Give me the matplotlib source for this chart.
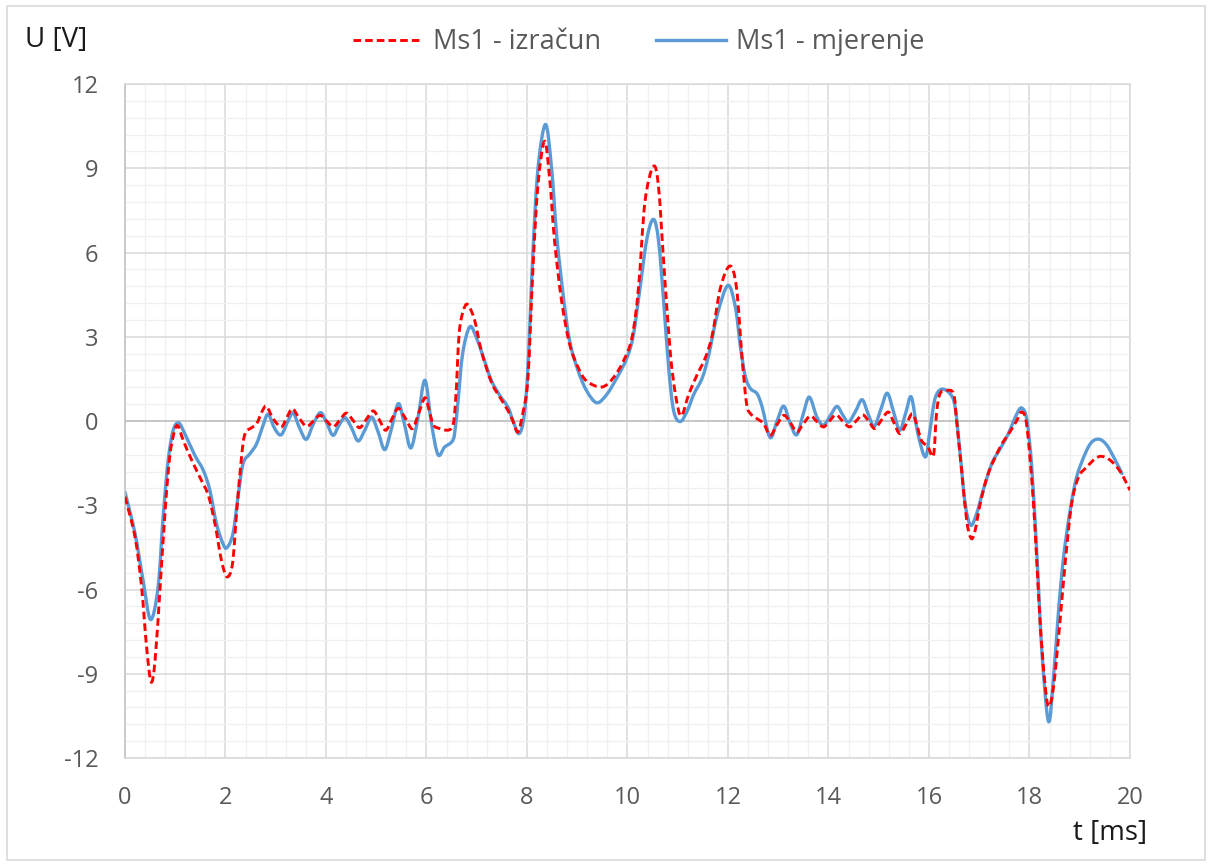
import matplotlib
matplotlib.use("Agg")
import matplotlib.pyplot as plt
import numpy as np
from matplotlib.ticker import MultipleLocator
from matplotlib.patches import Rectangle, PathPatch
from matplotlib.path import Path
from matplotlib.lines import Line2D

# --- data ---
t_calc = [0.0, 0.2, 0.33, 0.43, 0.52, 0.6, 0.7, 0.8, 0.89, 0.99, 1.06, 1.16, 1.33, 1.52, 1.66, 1.79,
          1.92, 2.03, 2.14, 2.22, 2.32, 2.39, 2.52, 2.62, 2.74, 2.82, 2.95, 3.11, 3.22, 3.33, 3.45,
          3.61, 3.75, 3.88, 4.0, 4.15, 4.28, 4.41, 4.54, 4.67, 4.8, 4.94, 5.06, 5.19, 5.32, 5.44,
          5.58, 5.72, 5.85, 5.97, 6.05, 6.13, 6.23, 6.5, 6.58, 6.65, 6.73, 6.82, 6.96, 7.09, 7.29,
          7.46, 7.62, 7.72, 7.82, 7.92, 8.02, 8.12, 8.22, 8.35, 8.45, 8.55, 8.69, 8.85, 9.02, 9.19,
          9.49, 9.72, 9.92, 10.09, 10.22, 10.35, 10.52, 10.62, 10.72, 10.85, 10.96, 11.07, 11.22,
          11.39, 11.55, 11.69, 11.85, 12.04, 12.17, 12.28, 12.37, 12.45, 12.58, 12.71, 12.84,
          12.97, 13.11, 13.24, 13.37, 13.5, 13.64, 13.77, 13.9, 14.02, 14.15, 14.28, 14.42, 14.55,
          14.68, 14.8, 14.92, 15.05, 15.19, 15.3, 15.42, 15.55, 15.67, 15.76, 15.85, 15.98, 16.09,
          16.15, 16.22, 16.35, 16.49, 16.55, 16.65, 16.75, 16.84, 16.92, 17.02, 17.18, 17.42,
          17.61, 17.75, 17.85, 17.95, 18.08, 18.21, 18.3, 18.38, 18.48, 18.61, 18.71, 18.84,
          18.98, 19.14, 19.31, 19.44, 19.61, 19.81, 20.0]
u_calc = [-2.7, -4.13, -5.9, -8.04, -9.29, -8.5, -5.9, -3.18, -1.28, -0.33, -0.19, -0.69, -1.4,
          -2.11, -2.65, -3.65, -4.96, -5.55, -5.08, -3.3, -1.28, -0.45, -0.24, -0.1, 0.38, 0.52,
          0.08, -0.21, 0.12, 0.44, 0.15, -0.19, 0.0, 0.2, 0.02, -0.2, 0.05, 0.28, 0.02, -0.24,
          0.05, 0.36, 0.05, -0.33, 0.1, 0.45, 0.1, -0.27, 0.3, 0.83, 0.4, -0.1, -0.25, -0.25,
          0.74, 3.1, 3.9, 4.15, 3.58, 2.51, 1.39, 0.85, 0.38, 0.0, -0.39, 0.3, 1.54, 5.46, 8.42,
          9.96, 8.66, 6.4, 4.27, 2.73, 1.9, 1.42, 1.21, 1.54, 2.14, 2.97, 4.74, 7.83, 9.07, 8.3,
          5.69, 2.49, 0.9, 0.18, 0.95, 1.66, 2.25, 3.08, 4.74, 5.52, 4.74, 2.27, 0.62, 0.26, 0.08,
          -0.09, -0.51, -0.15, 0.2, -0.05, -0.39, -0.1, 0.18, -0.02, -0.21, 0.0, 0.22, 0.0, -0.21,
          0.0, 0.22, 0.0, -0.27, 0.02, 0.32, -0.05, -0.45, -0.1, 0.26, -0.15, -0.69, -0.92, -1.22,
          0.26, 0.97, 1.09, 0.97, 0.02, -1.75, -3.53, -4.18, -3.89, -2.94, -1.87, -0.92, -0.39,
          0.02, 0.32, -0.21, -2.94, -7.09, -9.2, -10.17, -9.45, -7.09, -5.07, -2.94, -1.99, -1.64,
          -1.34, -1.26, -1.4, -1.81, -2.46]

t_meas = [0.0, 0.2, 0.36, 0.51, 0.66, 0.76, 0.86, 0.96, 1.07, 1.19, 1.39, 1.56, 1.69, 1.82, 1.95,
          2.03, 2.15, 2.25, 2.35, 2.49, 2.62, 2.75, 2.85, 2.98, 3.11, 3.25, 3.35, 3.48, 3.61, 3.75,
          3.89, 4.01, 4.14, 4.26, 4.38, 4.51, 4.64, 4.78, 4.91, 5.04, 5.17, 5.3, 5.44, 5.56, 5.69,
          5.83, 5.97, 6.1, 6.23, 6.36, 6.5, 6.56, 6.63, 6.72, 6.86, 6.99, 7.13, 7.29, 7.46, 7.62,
          7.72, 7.84, 7.94, 8.02, 8.12, 8.22, 8.37, 8.49, 8.59, 8.72, 8.85, 9.02, 9.19, 9.39, 9.59,
          9.79, 9.99, 10.12, 10.25, 10.39, 10.52, 10.62, 10.72, 10.82, 10.92, 11.05, 11.19, 11.32,
          11.49, 11.62, 11.79, 12.0, 12.15, 12.25, 12.35, 12.45, 12.58, 12.68, 12.84, 12.98, 13.11,
          13.24, 13.37, 13.5, 13.62, 13.77, 13.9, 14.04, 14.17, 14.29, 14.4, 14.54, 14.67, 14.79,
          14.91, 15.04, 15.17, 15.3, 15.42, 15.54, 15.65, 15.78, 15.93, 16.02, 16.12, 16.25, 16.42,
          16.52, 16.62, 16.72, 16.83, 16.95, 17.08, 17.25, 17.42, 17.58, 17.75, 17.85, 17.95,
          18.05, 18.15, 18.25, 18.38, 18.48, 18.58, 18.68, 18.81, 18.94, 19.11, 19.24, 19.39,
          19.54, 19.71, 19.84]
u_meas = [-2.53, -4.0, -5.67, -7.07, -5.9, -3.4, -1.4, -0.33, -0.07, -0.45, -1.22, -1.76, -2.47,
          -3.65, -4.37, -4.51, -4.0, -2.7, -1.52, -1.16, -0.81, -0.15, 0.24, -0.27, -0.49, 0.02,
          0.28, -0.27, -0.65, -0.1, 0.3, -0.05, -0.51, -0.15, 0.12, -0.25, -0.71, -0.3, 0.14,
          -0.4, -1.02, -0.3, 0.62, -0.1, -0.96, 0.1, 1.45, -0.1, -1.2, -0.93, -0.75, -0.45, 0.74,
          2.4, 3.35, 2.99, 2.28, 1.45, 0.91, 0.5, 0.02, -0.45, 0.14, 1.92, 6.05, 9.0, 10.56, 9.0,
          6.64, 4.5, 2.85, 1.78, 1.07, 0.65, 0.95, 1.54, 2.25, 3.08, 4.74, 6.52, 7.18, 6.4, 4.27,
          1.9, 0.36, -0.02, 0.36, 0.95, 1.54, 2.37, 3.8, 4.83, 4.03, 2.61, 1.56, 1.15, 0.97, 0.5,
          -0.59, 0.02, 0.53, -0.09, -0.49, 0.26, 0.85, 0.14, -0.15, 0.2, 0.52, 0.2, -0.04, 0.35,
          0.76, 0.25, -0.19, 0.4, 0.99, 0.3, -0.33, 0.3, 0.85, -0.45, -1.28, -0.33, 0.79, 1.13,
          0.97, 0.5, -1.16, -2.94, -3.71, -3.29, -2.46, -1.52, -0.98, -0.45, 0.26, 0.46, 0.02,
          -1.75, -4.83, -8.27, -10.7, -9.1, -6.73, -4.83, -3.18, -1.99, -1.16, -0.75, -0.65,
          -0.86, -1.4, -1.87]

x_major_ticks = [0, 2, 4, 6, 8, 10, 12, 14, 16, 18, 20]
y_major_ticks = [-12, -9, -6, -3, 0, 3, 6, 9, 12]
label_calc = "Ms1 - izračun"
label_meas = "Ms1 - mjerenje"

plt.rcParams['font.family'] = ['Open Sans', 'DejaVu Sans']
plt.rcParams['axes.unicode_minus'] = False

RED = '#FF0000'
BLUE = '#5B9BD5'
RED_DASH = (0, (2.6, 1.4))


def smoothed_path(x, y):
    """Excel-style smoothed line: Bezier segments through the data points."""
    pts = np.column_stack([x, y]).astype(float)
    n = len(pts)
    verts = [pts[0]]
    codes = [Path.MOVETO]
    for i in range(n - 1):
        p0 = pts[i - 1] if i > 0 else pts[i]
        p1 = pts[i]
        p2 = pts[i + 1]
        p3 = pts[i + 2] if i + 2 < n else pts[i + 1]
        verts += [p1 + (p2 - p0) / 6.0, p2 - (p3 - p1) / 6.0, p2]
        codes += [Path.CURVE4] * 3
    return Path(verts, codes)


fig = plt.figure(figsize=(12.12, 8.66), dpi=100)
ax = fig.add_axes([0.1031, 0.1247, 0.8292, 0.7783])

# figure border
fig.patches.append(Rectangle((7 / 1212, 6 / 866), 1198 / 1212, 854 / 866,
                             transform=fig.transFigure, fill=False,
                             edgecolor='#d9d9d9', linewidth=1.2))

ax.add_patch(PathPatch(smoothed_path(t_meas, u_meas), fill=False, edgecolor=BLUE,
                       linewidth=2.4, zorder=2, capstyle='round', joinstyle='round'))
ax.add_patch(PathPatch(smoothed_path(t_calc, u_calc), fill=False, edgecolor=RED,
                       linewidth=2.1, linestyle=RED_DASH, zorder=3))

ax.set_xlim(0, 20)
ax.set_ylim(-12, 12)
ax.set_xticks(x_major_ticks)
ax.set_yticks(y_major_ticks)
ax.xaxis.set_minor_locator(MultipleLocator(0.4))
ax.yaxis.set_minor_locator(MultipleLocator(0.6))
ax.grid(which='major', color='#d9d9d9', linewidth=1.1, zorder=0)
ax.grid(which='minor', color='#f0f0f0', linewidth=1.0, zorder=0)
ax.set_axisbelow(True)
ax.axhline(0, color='#bfbfbf', linewidth=1.1, zorder=1)
for s in ax.spines.values():
    s.set_color('#d9d9d9')
    s.set_linewidth(1.1)
ax.spines['left'].set_color('#bfbfbf')
ax.tick_params(which='both', length=0)
ax.tick_params(axis='both', labelsize=17, colors='#595959')
ax.tick_params(axis='x', pad=20)
ax.tick_params(axis='y', pad=19)

fig.text(25 / 1212, 1 - 40 / 866, "U [V]", fontsize=20, color='#1a1a1a',
         ha='left', va='center')
fig.text(1147 / 1212, 1 - 833 / 866, "t [ms]", fontsize=20, color='#1a1a1a',
         ha='right', va='center')

handles = [Line2D([], [], color=RED, linewidth=2.1, linestyle=RED_DASH),
           Line2D([], [], color=BLUE, linewidth=2.4)]
leg = fig.legend(handles, [label_calc, label_meas], loc='center',
                 bbox_to_anchor=(0.527, 1 - 42 / 866), ncol=2,
                 frameon=False, fontsize=19.5, handlelength=2.6, columnspacing=2.0,
                 handletextpad=0.37)
for txt in leg.get_texts():
    txt.set_color('#595959')

fig.savefig("out.png", dpi=100)
